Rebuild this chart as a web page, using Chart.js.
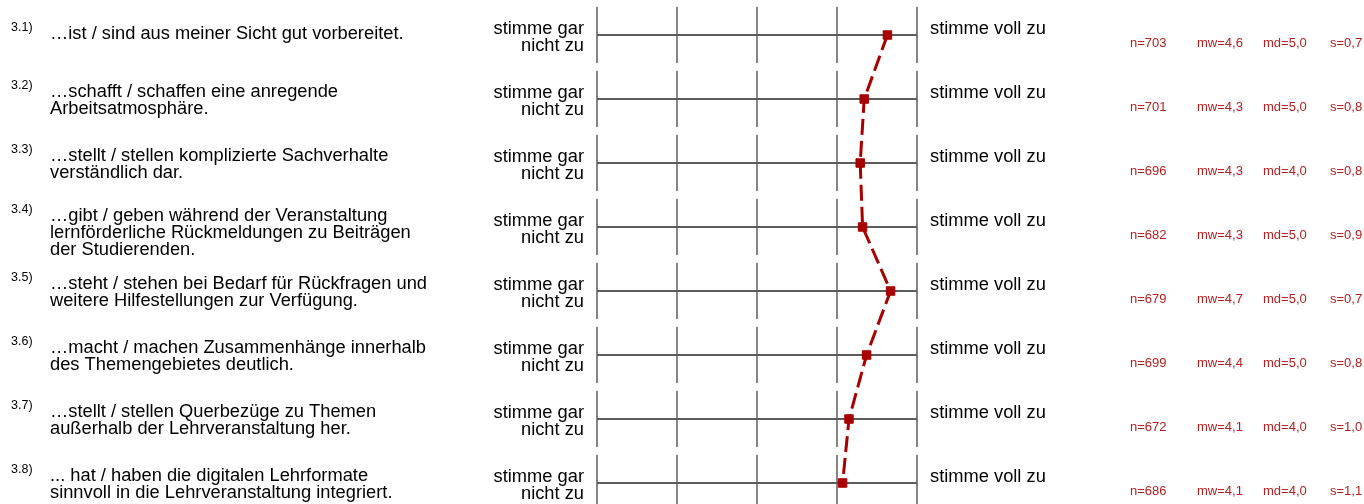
<!DOCTYPE html>
<html>
<head>
<meta charset="utf-8">
<script src="https://cdn.jsdelivr.net/npm/chart.js@4"></script>
<style>
  body { margin: 0; background: #fff; }
  canvas { display: block; }
</style>
</head>
<body>
<canvas id="profile" width="1364" height="504"></canvas>
<script>
// item labels
var itemNumbers = ['3.1)', '3.2)', '3.3)', '3.4)', '3.5)', '3.6)', '3.7)', '3.8)'];
var itemTexts = [
  ['…ist / sind aus meiner Sicht gut vorbereitet.'],
  ['…schafft / schaffen eine anregende', 'Arbeitsatmosphäre.'],
  ['…stellt / stellen komplizierte Sachverhalte', 'verständlich dar.'],
  ['…gibt / geben während der Veranstaltung', 'lernförderliche Rückmeldungen zu Beiträgen', 'der Studierenden.'],
  ['…steht / stehen bei Bedarf für Rückfragen und', 'weitere Hilfestellungen zur Verfügung.'],
  ['…macht / machen Zusammenhänge innerhalb', 'des Themengebietes deutlich.'],
  ['…stellt / stellen Querbezüge zu Themen', 'außerhalb der Lehrveranstaltung her.'],
  ['... hat / haben die digitalen Lehrformate', 'sinnvoll in die Lehrveranstaltung integriert.']
];
var leftPole = ['stimme gar', 'nicht zu'];
var rightPole = 'stimme voll zu';
var scaleTicks = [1, 2, 3, 4, 5];

// profile line (mean position per item)
var means = [4.63, 4.34, 4.29, 4.32, 4.67, 4.37, 4.15, 4.07];

// statistics column
var nValues = ['703', '701', '696', '682', '679', '699', '672', '686'];
var mwValues = ['4,6', '4,3', '4,3', '4,3', '4,7', '4,4', '4,1', '4,1'];
var mdValues = ['5,0', '5,0', '4,0', '5,0', '5,0', '5,0', '4,0', '4,0'];
var sValues = ['0,7', '0,8', '0,8', '0,9', '0,7', '0,8', '1,0', '1,1'];

var FONT = '"Liberation Sans", Arial, sans-serif';
var RED = '#a80000';

var points = means.map(function(v, i) { return {x: v, y: i}; });

var profilePlugin = {
  id: 'profileGrid',
  beforeDatasetsDraw: function(chart) {
    var ctx = chart.ctx;
    var x = chart.scales.x, y = chart.scales.y;
    ctx.save();
    for (var i = 0; i < itemTexts.length; i++) {
      var yc = Math.round(y.getPixelForValue(i));
      ctx.strokeStyle = '#858585';
      ctx.lineWidth = 2;
      scaleTicks.forEach(function(t) {
        var px = Math.round(x.getPixelForValue(t));
        ctx.beginPath();
        ctx.moveTo(px, yc - 28);
        ctx.lineTo(px, yc + 28);
        ctx.stroke();
      });
      ctx.strokeStyle = '#5c5c5c';
      ctx.beginPath();
      ctx.moveTo(x.getPixelForValue(1), yc);
      ctx.lineTo(x.getPixelForValue(5), yc);
      ctx.stroke();
    }
    ctx.restore();
  },
  afterDraw: function(chart) {
    var ctx = chart.ctx;
    var x = chart.scales.x, y = chart.scales.y;
    var left = x.getPixelForValue(1), right = x.getPixelForValue(5);
    ctx.save();
    ctx.textBaseline = 'middle';
    for (var i = 0; i < itemTexts.length; i++) {
      var yc = y.getPixelForValue(i);
      var lines = itemTexts[i];
      var first = yc + (lines.length == 1 ? -1.5 : (lines.length == 2 ? -7 : -11));

      ctx.fillStyle = '#000';
      ctx.textAlign = 'left';
      ctx.font = '12.5px ' + FONT;
      ctx.fillText(itemNumbers[i], 11, first - 6);
      ctx.font = '18.3px ' + FONT;
      lines.forEach(function(l, k) {
        ctx.fillText(l, 50, first + k * 17.2);
      });

      ctx.textAlign = 'right';
      ctx.fillText(leftPole[0], left - 13, yc - 6);
      ctx.fillText(leftPole[1], left - 13, yc + 10.5);
      ctx.textAlign = 'left';
      ctx.fillText(rightPole, right + 13, yc - 6);

      ctx.fillStyle = '#b42020';
      ctx.font = '13px ' + FONT;
      ctx.fillText('n=' + nValues[i], 1130, yc + 8);
      ctx.fillText('mw=' + mwValues[i], 1197, yc + 8);
      ctx.fillText('md=' + mdValues[i], 1263, yc + 8);
      ctx.fillText('s=' + sValues[i], 1330, yc + 8);
    }
    ctx.restore();
  }
};

new Chart(document.getElementById('profile'), {
  type: 'scatter',
  data: {
    datasets: [{
      label: 'Mittelwert',
      data: points,
      showLine: true,
      borderColor: RED,
      backgroundColor: RED,
      borderWidth: 3,
      borderDash: [16, 6],
      pointStyle: 'rect',
      pointRadius: 6,
      pointBorderWidth: 1,
      pointBorderColor: RED,
      pointBackgroundColor: RED,
      clip: false
    }]
  },
  options: {
    responsive: false,
    animation: false,
    layout: { autoPadding: false, padding: { left: 597, right: 447, top: 3, bottom: 1 } },
    plugins: { legend: { display: false }, tooltip: { enabled: false } },
    scales: {
      x: { type: 'linear', min: 1, max: 5, display: false },
      y: { type: 'linear', min: -0.5, max: 7.3125, reverse: true, display: false }
    }
  },
  plugins: [profilePlugin]
});
</script>
</body>
</html>
